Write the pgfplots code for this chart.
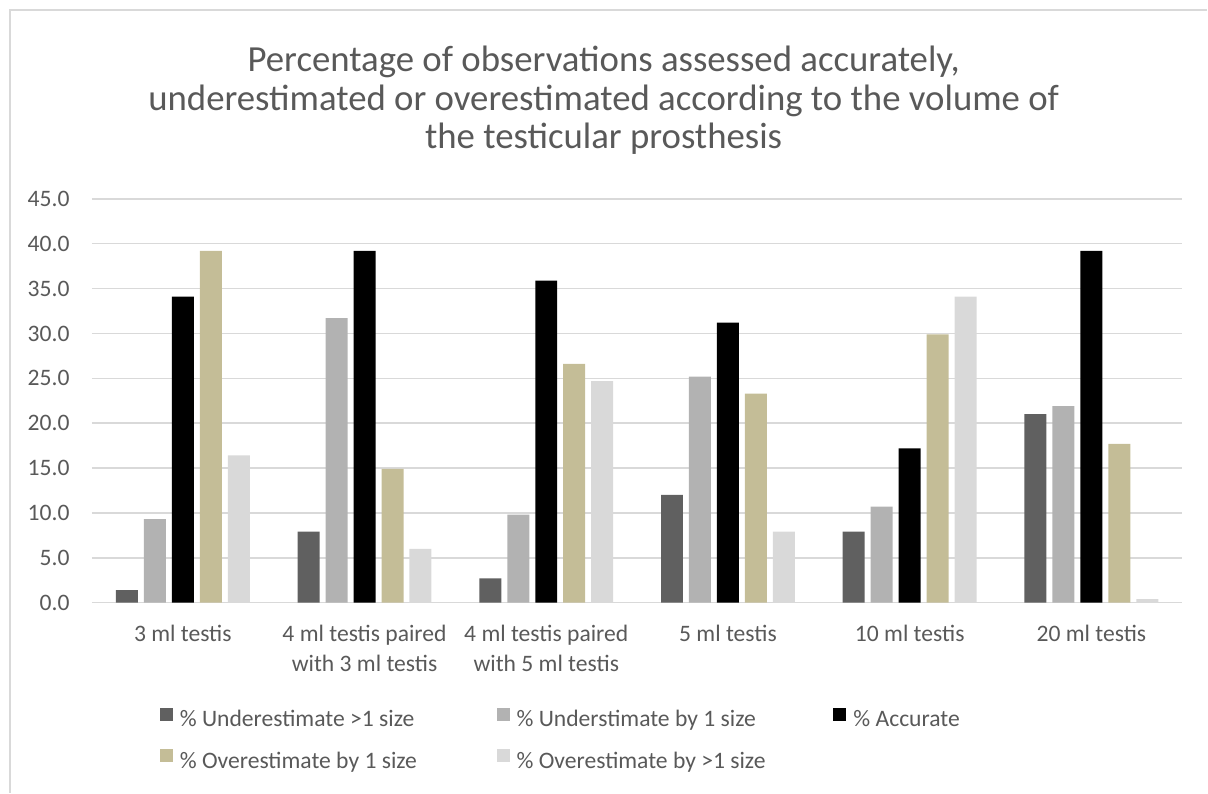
\documentclass[border=0pt]{standalone}
\usepackage{fontspec}
\setmainfont{Carlito}
\usepackage{pgfplots}
\pgfplotsset{compat=1.18}
\definecolor{txt}{HTML}{595959}
\definecolor{gridc}{HTML}{D9D9D9}
\definecolor{cA}{HTML}{606060}
\definecolor{cB}{HTML}{B2B2B2}
\definecolor{cC}{HTML}{000000}
\definecolor{cD}{HTML}{C4BD97}
\definecolor{cE}{HTML}{D9D9D9}
\newcommand{\lf}{\fontsize{11.8}{15}\selectfont}
\pgfplotsset{sqleg/.style={legend image code/.code={\fill[##1] (0pt,0.4pt) rectangle (6.5pt,6.9pt);}}}
\begin{document}
\begin{tikzpicture}
\path (-46pt,-95pt) rectangle (558pt,301.5pt);
\draw[gridc, line width=0.75pt] (-41pt,-95pt) -- (-41pt,296.5pt) -- (558pt,296.5pt);
\node[anchor=north, align=center, inner sep=0pt, text=txt, font=\fontsize{18.4}{19.4}\selectfont] at (256pt,278.8pt)
  {Percentage of observations assessed accurately,\\underestimated or overestimated according to the volume of\\the testicular prosthesis};
\begin{axis}[
  at={(0,0)}, anchor=south west,
  scale only axis, width=545.5pt, height=202pt,
  xmin=-0.5, xmax=5.5, ymin=0, ymax=45,
  ytick={0,5,...,45},
  xtick={0,1,2,3,4,5},
  xticklabels={{3 ml testis},{4 ml testis paired\\with 3 ml testis},{4 ml testis paired\\with 5 ml testis},{5 ml testis},{10 ml testis},{20 ml testis}},
  ybar=3pt, bar width=11pt,
  axis line style={draw=none},
  major tick length=0pt,
  ymajorgrids,
  grid style={color=gridc, line width=0.75pt},
  ticklabel style={font=\lf, text=txt},
  xticklabel style={align=center, inner sep=0pt, yshift=-11pt},
  yticklabel style={inner sep=0pt, xshift=-11pt},
  /pgf/number format/.cd, fixed, fixed zerofill, precision=1, assume math mode=true,
  /pgfplots/.cd,
  legend columns=3,
  legend cell align=left,
  legend style={at={(0.0623,-0.2599)}, anchor=north west, draw=none, fill=none,
    inner sep=0pt, outer sep=0pt, column sep=0pt, row sep=8.5pt,
    nodes={inner sep=0pt, text height=8pt, text depth=2.5pt, font=\lf, text=txt}},
]
\addplot[fill=cA, draw=none, sqleg] coordinates {(0,1.4) (1,7.9) (2,2.7) (3,12.0) (4,7.9) (5,21.0)};
\addplot[fill=cB, draw=none, sqleg] coordinates {(0,9.3) (1,31.7) (2,9.8) (3,25.2) (4,10.7) (5,21.9)};
\addplot[fill=cC, draw=none, sqleg] coordinates {(0,34.1) (1,39.2) (2,35.9) (3,31.2) (4,17.2) (5,39.2)};
\addplot[fill=cD, draw=none, sqleg] coordinates {(0,39.2) (1,14.9) (2,26.6) (3,23.3) (4,29.9) (5,17.7)};
\addplot[fill=cE, draw=none, sqleg] coordinates {(0,16.4) (1,6.0) (2,24.7) (3,7.9) (4,34.1) (5,0.4)};
\addlegendentry{\makebox[162pt][l]{\hspace{3.5pt}\% Underestimate >1 size}}
\addlegendentry{\makebox[162pt][l]{\hspace{3.5pt}\% Understimate by 1 size}}
\addlegendentry{\makebox[100pt][l]{\hspace{3.5pt}\% Accurate}}
\addlegendentry{\makebox[162pt][l]{\hspace{3.5pt}\% Overestimate by 1 size}}
\addlegendentry{\makebox[162pt][l]{\hspace{3.5pt}\% Overestimate by >1 size}}
\end{axis}
\end{tikzpicture}
\end{document}
